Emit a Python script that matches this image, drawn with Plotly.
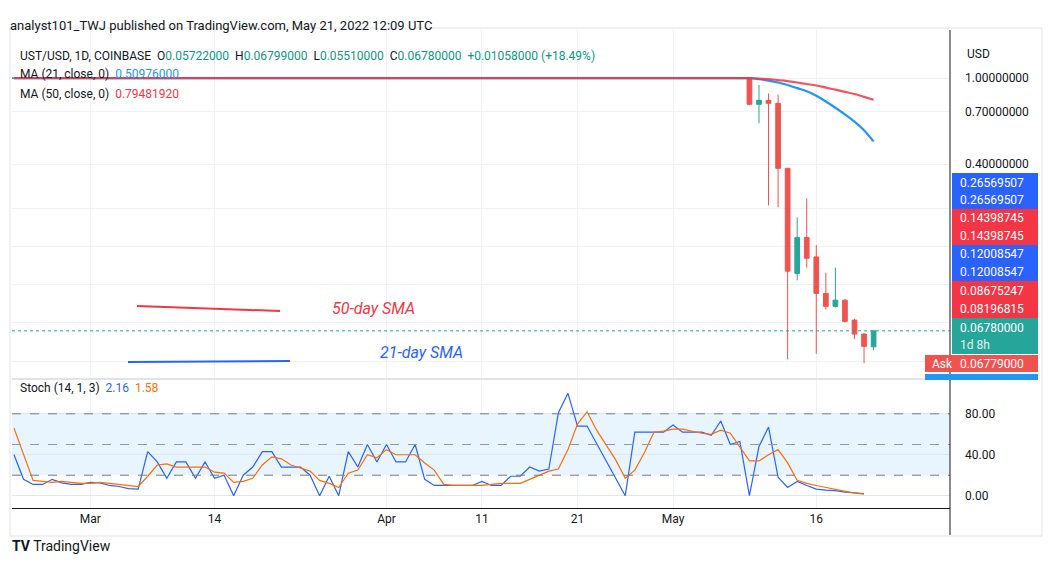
import plotly.graph_objects as go
import pandas as pd

W, H = 1036, 559   # page has 8px body margin in a 1052x575 window
def X(px): return (px - 8) / W
def Y(py): return 1 - (py - 8) / H

# ---------- data ----------
flat_start = "2022-02-21"
flat_days = 77            # Feb 21 .. May 8 pegged at ~1.0
flat_price = [1.0] * flat_days

crash_dates = pd.date_range("2022-05-09", "2022-05-22").strftime("%Y-%m-%d").tolist()
crash_open  = [1.00, 0.757, 0.79, 0.765, 0.383, 0.125, 0.183, 0.149, 0.101, 0.088, 0.094, 0.076, 0.0655, 0.0572]
crash_high  = [1.00, 0.93, 0.85, 0.84, 0.383, 0.227, 0.278, 0.169, 0.126, 0.133, 0.095, 0.077, 0.0660, 0.0680]
crash_low   = [0.75, 0.62, 0.258, 0.253, 0.050, 0.116, 0.133, 0.053, 0.085, 0.087, 0.074, 0.062, 0.048, 0.0551]
crash_close = [0.757, 0.79, 0.765, 0.383, 0.128, 0.183, 0.147, 0.101, 0.088, 0.094, 0.075, 0.0655, 0.0575, 0.0678]

ma21_crash = [1.0, 0.99, 0.975, 0.955, 0.93, 0.90, 0.87, 0.83, 0.78, 0.73, 0.68, 0.63, 0.575, 0.51]
ma50_crash = [1.0, 0.995, 0.99, 0.98, 0.97, 0.955, 0.94, 0.925, 0.905, 0.885, 0.865, 0.845, 0.82, 0.795]

stoch_start = "2022-02-21"
stoch_k = [40, 16, 11, 11, 16, 12.5, 11, 11, 13, 12.5, 10, 9, 7, 6.5, 43, 33, 17, 33, 33, 17,
           33, 17, 20, 0, 20, 28, 43, 43, 28, 28, 28, 20, 0, 19, 0, 43, 28, 50, 33, 50,
           33, 33, 50, 16, 10, 10, 10, 10, 10, 14, 10, 10, 19, 19, 28, 24, 26, 81, 100, 68,
           68, 51, 34, 17, 0, 62, 62, 62, 62, 69, 62, 62, 62, 59, 73, 50, 53, 0, 48, 67,
           18, 8, 14, 10, 6.5, 5.5, 5, 3.5, 2.5, 2.16]
stoch_d = [66, 40, 15, 14, 13, 14, 13, 12, 12, 13, 12, 11, 10, 9, 19, 30, 31, 28, 28, 28,
           28, 23, 22, 13, 14, 17, 30, 38, 36, 30, 27, 24, 15, 12, 8, 22, 25, 40, 37, 45,
           40, 40, 40, 32, 25, 11, 10, 10, 10, 10, 11, 12, 12, 12, 16, 20, 24, 26, 45, 70,
           82, 64, 50, 35, 17, 25, 42, 62, 63, 65, 65, 63, 61, 60, 64, 61, 48, 34, 34, 40,
           45, 32, 15, 12, 10, 8, 6, 4, 2.5, 1.58]

tick_dates = ["2022-03-01", "2022-03-14", "2022-04-01", "2022-04-11", "2022-04-21", "2022-05-01", "2022-05-16"]
tick_text = ["Mar", "14", "Apr", "11", "21", "May", "16"]

price_ticks = [1.0, 0.7, 0.4, 0.25, 0.167, 0.111, 0.074, 0.049]
price_tick_text = ["1.00000000", "0.70000000", "0.40000000", "", "", "", "", ""]

badges = [  # (top, bottom, color, line1, line2)
    (173, 209, "#2962ff", "0.26569507", "0.26569507"),
    (209, 245, "#f23645", "0.14398745", "0.14398745"),
    (245, 281, "#2962ff", "0.12008547", "0.12008547"),
    (281, 318, "#f23645", "0.08675247", "0.08196815"),
    (318, 354, "#26a69a", "0.06780000", "1d 8h"),
]
last_price = 0.0678

# ---------- build ----------
flat_dates = pd.date_range(flat_start, periods=flat_days).strftime("%Y-%m-%d").tolist()
dates = flat_dates + crash_dates
o = flat_price + crash_open
h = flat_price + crash_high
l = flat_price + crash_low
c = flat_price + crash_close
ma21 = flat_price + ma21_crash
ma50 = flat_price + ma50_crash
sdates = pd.date_range(stoch_start, periods=len(stoch_k)).strftime("%Y-%m-%d").tolist()

UP, DN = "#26a69a", "#ef5350"
fig = go.Figure()
fig.add_trace(go.Candlestick(x=dates, open=o, high=h, low=l, close=c,
    increasing=dict(line=dict(color=UP, width=1), fillcolor=UP),
    decreasing=dict(line=dict(color=DN, width=1), fillcolor=DN),
    whiskerwidth=0, xaxis="x", yaxis="y", showlegend=False))
fig.add_trace(go.Scatter(x=dates, y=ma21, mode="lines", line=dict(color="#2196f3", width=2.2, shape="spline"), xaxis="x", yaxis="y", showlegend=False))
fig.add_trace(go.Scatter(x=dates, y=ma50, mode="lines", line=dict(color="#f23645", width=2.2, shape="spline"), opacity=0.85, xaxis="x", yaxis="y", showlegend=False))
fig.add_trace(go.Scatter(x=sdates, y=stoch_k, mode="lines", line=dict(color="#2962ff", width=1.2), xaxis="x2", yaxis="y2", showlegend=False))
fig.add_trace(go.Scatter(x=sdates, y=stoch_d, mode="lines", line=dict(color="#ff6d00", width=1.2), xaxis="x2", yaxis="y2", showlegend=False))

xr = ["2022-02-20 19:00", "2022-05-30"]
grid = "#eef1f5"
fig.update_layout(
    width=W, height=H, margin=dict(l=0, r=0, t=0, b=0),
    paper_bgcolor="white", plot_bgcolor="white",
    font=dict(family="Roboto, Noto Sans, sans-serif", color="#131722", size=12),
    xaxis=dict(domain=[X(12), X(950)], range=xr, anchor="y", showticklabels=False,
               tickvals=tick_dates, showgrid=True, gridcolor=grid, rangeslider=dict(visible=False),
               zeroline=False, showline=False),
    yaxis=dict(domain=[Y(378), Y(30)], type="log", range=[-1.387, 0.223], side="right",
               tickvals=price_ticks, ticktext=price_tick_text, showgrid=True, gridcolor=grid,
               ticks="", anchor="x", zeroline=False, tickfont=dict(size=12), ticklabelstandoff=14),
    xaxis2=dict(domain=[X(12), X(950)], range=xr, anchor="y2", tickvals=tick_dates, ticktext=tick_text,
                showgrid=True, gridcolor=grid, zeroline=False, ticks="", tickfont=dict(size=12),
                showline=True, linecolor="#131722", linewidth=1),
    yaxis2=dict(domain=[Y(508), Y(380)], range=[-12, 113], side="right", anchor="x2",
                tickvals=[0, 40, 80], ticktext=["0.00", "40.00", "80.00"], showgrid=True,
                gridcolor="#dfe6ee", zeroline=False, ticks="", tickfont=dict(size=12), ticklabelstandoff=14),
)

shapes = []
shapes.append(dict(type="rect", xref="x2 domain", yref="y2", x0=0, x1=1, y0=20, y1=80,
                   fillcolor="rgba(33,150,243,0.10)", line=dict(width=0), layer="below"))
for lv in (20, 50, 80):
    shapes.append(dict(type="line", xref="x2 domain", yref="y2", x0=0, x1=1, y0=lv, y1=lv,
                       line=dict(color="#787b86" if lv != 50 else "#9598a1", width=1, dash="dash")))
shapes.append(dict(type="line", xref="x domain", yref="y", x0=0, x1=1, y0=last_price, y1=last_price,
                   line=dict(color=UP, width=1, dash="dot")))
shapes.append(dict(type="line", xref="paper", yref="paper", x0=X(950), x1=X(950), y0=Y(535), y1=Y(30), line=dict(color="#131722", width=1)))
shapes.append(dict(type="line", xref="paper", yref="paper", x0=X(12), x1=X(950), y0=Y(379), y1=Y(379), line=dict(color="#e0e3eb", width=2)))
shapes.append(dict(type="rect", xref="paper", yref="paper", x0=X(10), x1=X(1042), y0=Y(536), y1=Y(28), line=dict(color="#e0e3eb", width=1)))
shapes.append(dict(type="line", xref="paper", yref="paper", x0=X(137), x1=X(280), y0=Y(306), y1=Y(311), line=dict(color="#f23645", width=2)))
shapes.append(dict(type="line", xref="paper", yref="paper", x0=X(128), x1=X(290), y0=Y(362), y1=Y(361), line=dict(color="#2962ff", width=2)))

ann = []
for top, bot, col, t1, t2 in badges:
    shapes.append(dict(type="rect", xref="paper", yref="paper", x0=X(952), x1=X(1038), y0=Y(bot), y1=Y(top),
                       fillcolor=col, line=dict(width=0)))
    mid = (top + bot) / 2
    ann.append(dict(x=X(958), y=Y(mid - 8.5), xref="paper", yref="paper", text=t1, showarrow=False,
                    xanchor="left", yanchor="middle", font=dict(color="white", size=12)))
    ann.append(dict(x=X(958), y=Y(mid + 9), xref="paper", yref="paper", text=t2, showarrow=False,
                    xanchor="left", yanchor="middle", font=dict(color="white" if t2 != "1d 8h" else "#e0f2f1", size=12)))
shapes.append(dict(type="rect", xref="paper", yref="paper", x0=X(925), x1=X(1038), y0=Y(372), y1=Y(355), fillcolor="#ef5350", line=dict(width=0)))
ann.append(dict(x=X(930), y=Y(363.5), xref="paper", yref="paper", text="Ask", showarrow=False, xanchor="left", font=dict(color="white", size=12)))
ann.append(dict(x=X(958), y=Y(363.5), xref="paper", yref="paper", text="0.06779000", showarrow=False, xanchor="left", font=dict(color="white", size=12)))
shapes.append(dict(type="rect", xref="paper", yref="paper", x0=X(925), x1=X(1038), y0=Y(380), y1=Y(374), fillcolor="#2196f3", line=dict(width=0)))

ann.append(dict(x=X(965), y=Y(45), xref="paper", yref="paper", text="USD", showarrow=False, xanchor="left", font=dict(size=12)))
ann.append(dict(x=X(8), y=Y(16), xref="paper", yref="paper", showarrow=False, xanchor="left",
                text="analyst101_TWJ published on TradingView.com, May 21, 2022 12:09 UTC", font=dict(size=13, color="#131722")))
T = "#089981"
ann.append(dict(x=X(18), y=Y(47), xref="paper", yref="paper", showarrow=False, xanchor="left", font=dict(size=12),
                text=f"UST/USD, 1D, COINBASE  O<span style='color:{T}'>0.05722000</span>  H<span style='color:{T}'>0.06799000</span>  "
                     f"L<span style='color:{T}'>0.05510000</span>  C<span style='color:{T}'>0.06780000</span>  "
                     f"<span style='color:{T}'>+0.01058000 (+18.49%)</span>"))
ann.append(dict(x=X(18), y=Y(65), xref="paper", yref="paper", showarrow=False, xanchor="left", font=dict(size=12),
                text="MA (21, close, 0)  <span style='color:#2196f3'>0.50976000</span>"))
ann.append(dict(x=X(18), y=Y(85), xref="paper", yref="paper", showarrow=False, xanchor="left", font=dict(size=12),
                text="MA (50, close, 0)  <span style='color:#f23645'>0.79481920</span>"))
ann.append(dict(x=X(18), y=Y(397), xref="paper", yref="paper", showarrow=False, xanchor="left", font=dict(size=12),
                text="Stoch (14, 1, 3)  <span style='color:#2962ff'>2.16</span>  <span style='color:#ff6d00'>1.58</span>"))
ann.append(dict(x=X(330), y=Y(308), xref="paper", yref="paper", showarrow=False, xanchor="left",
                text="<i>50-day SMA</i>", font=dict(size=16, color="#f23645")))
ann.append(dict(x=X(378), y=Y(352), xref="paper", yref="paper", showarrow=False, xanchor="left",
                text="<i>21-day SMA</i>", font=dict(size=16, color="#2962ff")))
ann.append(dict(x=X(10), y=Y(556), xref="paper", yref="paper", showarrow=False, xanchor="left",
                text="<b>TV</b> TradingView", font=dict(size=14, color="#131722")))
fig.update_layout(shapes=shapes, annotations=ann)
fig.write_html("out.html")
